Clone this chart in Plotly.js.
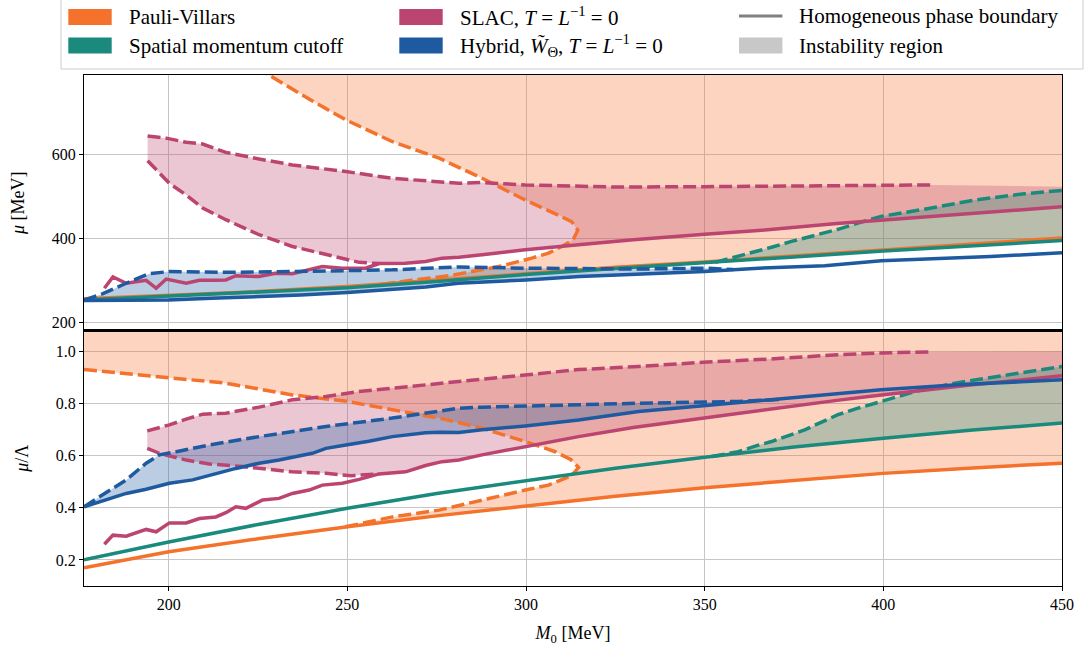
<!DOCTYPE html>
<html>
<head>
<meta charset="utf-8">
<script src="https://cdn.plot.ly/plotly-3.0.1.min.js"></script>
<style>html,body{margin:0;padding:0;background:#fff;}#chart{width:1085px;height:659px;}</style>
</head>
<body>
<div id="chart"></div>
<script>
// ---------------- DATA ----------------
// x axis ticks
const xTicks = [200, 250, 300, 350, 400, 450];
const yTopTicks = [200, 400, 600];
const yBotTicks = [0.2, 0.4, 0.6, 0.8, 1.0];

// ===== Top panel: mu [MeV] =====
// Pauli-Villars
const pvSolidTopX = [176.3, 200, 225, 250, 275, 300, 325, 350, 375, 400, 425, 450];
const pvSolidTopY = [256, 264, 273, 285, 300, 317, 331, 344, 359, 373, 387, 401];
const pvInstTopX = [220, 228, 240, 249.5, 262.5, 275.7, 287.7, 299.8, 310, 312.8, 314.5, 313.2, 310, 306.3, 301.6, 297, 292.4, 284.9, 278.4, 268, 259];
const pvInstTopY = [830, 791, 730, 684, 632, 592, 544, 492, 452, 440, 420, 397, 381, 365, 353, 343, 333, 321, 311, 300, 290];
// Spatial momentum cutoff
const smSolidTopX = [176.3, 200, 225, 250, 275, 300, 325, 350, 375, 400, 425, 450];
const smSolidTopY = [253, 262, 271, 282, 297, 314, 328, 341, 356, 370, 383, 395];
const smInstTopX = [352.9, 359.4, 365, 368.7, 374.3, 378, 383.6, 387.3, 392.9, 399.4, 411.5, 425.5, 439.5, 450];
const smInstTopY = [343, 357, 371, 379, 393, 401, 413, 422, 437, 453, 470, 492, 507, 515];
// SLAC
const slacSolidTopX = [182, 184.4, 188.1, 193.7, 196.5, 199.3, 204.9, 208.6, 213.2, 216, 218.8, 225.3, 229.9, 234.6, 243, 248.6, 255.1, 258.9, 266.3, 271.9, 276.5, 281.2, 287.7, 299.8, 314.7, 330, 350, 365, 387, 400, 425, 450];
const slacSolidTopY = [281, 308, 293, 300, 281, 303, 293, 300, 300, 301, 311, 309, 317, 316, 333, 329, 329, 340, 341, 345, 353, 355, 361, 373, 385, 397, 410, 419, 436, 444, 460, 476];
const slacUpperTopX = [194.1, 199.3, 204.9, 209.5, 213, 216, 225.3, 234.6, 249.6, 262.6, 281.2, 287.7, 299.8, 325.9, 350, 387.3, 399.4, 413.4];
const slacUpperTopY = [645, 640, 630, 626, 615, 606, 590, 576, 560, 544, 532, 534, 528, 523, 524, 526, 528, 528];
const slacLowerTopX = [194.1, 200.2, 204.9, 209.5, 216, 225.3, 234.6, 244, 253.3, 258.9];
const slacLowerTopY = [586, 532, 504, 473, 445, 409, 381, 361, 343, 340];
const slacFillEndTop = [450, 524];
// Hybrid
const hySolidTopX = [176.3, 188, 200, 212, 225, 237, 250, 262, 272, 281, 290, 300, 315, 330, 350, 365, 383.6, 399.4, 415, 430, 450];
const hySolidTopY = [252, 253, 253, 257, 261, 265, 271, 277, 284, 293, 296, 301, 309, 314, 321, 329, 335, 347, 352, 357, 366];
const hyInstTopX = [176.3, 181.6, 188.1, 194.6, 200.2, 216, 234.6, 249.6, 262.6, 281.2, 299.8, 331.5, 350, 358];
const hyInstTopY = [253, 268, 293, 316, 321, 319, 321, 323, 325, 332, 329, 327, 329, 326];

// ===== Bottom panel: mu / Lambda =====
const pvSolidBotX = [176.3, 200, 225, 250, 275, 300, 325, 350, 375, 400, 425, 450];
const pvSolidBotY = [0.170, 0.231, 0.281, 0.327, 0.369, 0.408, 0.444, 0.477, 0.506, 0.532, 0.553, 0.571];
const pvInstBotX = [176.3, 200, 216, 234.6, 250, 262.6, 275.7, 287.7, 299.8, 308.2, 312.5, 314.7, 313.5, 311.9, 306.3, 299.8, 287.7, 275.7, 262.6, 253.3, 248];
const pvInstBotY = [0.930, 0.898, 0.878, 0.833, 0.808, 0.776, 0.744, 0.705, 0.654, 0.615, 0.585, 0.555, 0.535, 0.519, 0.487, 0.468, 0.430, 0.391, 0.365, 0.340, 0.323];
const smSolidBotX = [176.3, 200, 225, 250, 275, 300, 325, 350, 375, 400, 425, 450];
const smSolidBotY = [0.201, 0.269, 0.336, 0.398, 0.455, 0.505, 0.552, 0.594, 0.633, 0.667, 0.698, 0.725];
const smInstBotX = [352, 359.4, 365, 368.7, 378, 383.6, 387.3, 392.9, 399.4, 410, 420, 430, 438, 450];
const smInstBotY = [0.597, 0.615, 0.640, 0.654, 0.699, 0.735, 0.757, 0.782, 0.808, 0.850, 0.878, 0.900, 0.917, 0.942];
const slacSolidBotX = [182, 184.4, 188.1, 191, 193.7, 196.5, 200.2, 204.9, 208.6, 213.2, 216, 218.8, 221.6, 226.3, 230.9, 234.6, 239.3, 243, 248.6, 253.3, 258.9, 266.3, 271.9, 276.5, 281.2, 287.7, 299.8, 314.7, 330, 350, 365, 387, 400, 425, 450];
const slacSolidBotY = [0.26, 0.295, 0.291, 0.305, 0.317, 0.308, 0.342, 0.342, 0.359, 0.365, 0.381, 0.404, 0.398, 0.430, 0.436, 0.455, 0.468, 0.487, 0.494, 0.509, 0.530, 0.538, 0.562, 0.577, 0.583, 0.603, 0.635, 0.673, 0.708, 0.745, 0.772, 0.812, 0.834, 0.872, 0.906];
const slacUpperBotX = [194, 200.2, 204.9, 209.5, 216, 225.3, 234.6, 244, 253.3, 262.6, 275.7, 287.7, 299.8, 314.7, 331.5, 349.6, 368.7, 387.3, 399.4, 413.4];
const slacUpperBotY = [0.695, 0.718, 0.740, 0.759, 0.763, 0.786, 0.814, 0.827, 0.846, 0.859, 0.878, 0.895, 0.910, 0.930, 0.942, 0.958, 0.971, 0.987, 0.994, 0.998];
const slacLowerBotX = [194, 197.4, 204.9, 211.4, 220.7, 234.6, 244, 251, 258.9];
const slacLowerBotY = [0.628, 0.609, 0.583, 0.568, 0.558, 0.538, 0.532, 0.523, 0.530];
const slacFillEndBot = [450, 1.0];
const hySolidBotX = [176.3, 182, 188.1, 193.7, 200.2, 206.7, 213.2, 218.8, 225.3, 230.9, 240.2, 244, 249.6, 256, 262.6, 271.9, 276, 281.2, 287.7, 299.8, 314.7, 331.5, 349.6, 368.7, 387.3, 399.4, 420.9, 435, 450];
const hySolidBotY = [0.404, 0.430, 0.455, 0.471, 0.494, 0.507, 0.532, 0.551, 0.571, 0.583, 0.609, 0.628, 0.641, 0.655, 0.673, 0.688, 0.690, 0.689, 0.699, 0.714, 0.737, 0.769, 0.791, 0.814, 0.837, 0.853, 0.872, 0.880, 0.891];
const hyInstBotX = [176.3, 181.6, 188.1, 193.7, 197.4, 202.1, 211.4, 225.3, 244, 262.6, 275.7, 281.2, 287.7, 299.8, 315, 331.5, 359.4, 372];
const hyInstBotY = [0.404, 0.449, 0.507, 0.571, 0.603, 0.615, 0.641, 0.673, 0.712, 0.744, 0.770, 0.782, 0.786, 0.791, 0.795, 0.801, 0.808, 0.816];

// ---------------- STYLE ----------------
const C = {pv: '#F4722B', sm: '#1A8A7D', slac: '#BC4470', hy: '#1E5AA0'};
const FILL_ALPHA = 0.3;
const X_RANGE = [176.3, 450];
const Y_TOP_RANGE = [180, 791];
const Y_BOT_RANGE = [0.1, 1.08];
const FONT = '"Liberation Serif", "DejaVu Serif", serif';
const LW = 3.5;
const DASH = '13px,5px';

function rgba(hex, a) {
  const n = parseInt(hex.slice(1), 16);
  return `rgba(${(n >> 16) & 255},${(n >> 8) & 255},${n & 255},${a})`;
}

// ---------------- POLYGON BUILDERS ----------------
function pvRegion(instX, instY, solX, solY, cap) {
  const xs = [...instX], ys = [...instY];
  const mergeX = instX[instX.length - 1];
  solX.forEach((x, i) => { if (x > mergeX) { xs.push(x); ys.push(solY[i]); } });
  xs.push(solX[solX.length - 1], instX[0]);
  ys.push(cap, cap);
  return {x: xs, y: ys};
}
function slacRegion(upX, upY, end, lowX, lowY, solX, solY) {
  const xs = [...upX, end[0]], ys = [...upY, end[1]];
  const mergeX = lowX[lowX.length - 1];
  for (let i = solX.length - 1; i >= 0; i--) if (solX[i] > mergeX) { xs.push(solX[i]); ys.push(solY[i]); }
  for (let i = lowX.length - 1; i >= 0; i--) { xs.push(lowX[i]); ys.push(lowY[i]); }
  return {x: xs, y: ys};
}
function bandRegion(dX, dY, solX, solY) {
  const xs = [...dX], ys = [...dY];
  const x0 = dX[0], x1 = dX[dX.length - 1];
  for (let i = solX.length - 1; i >= 0; i--) if (solX[i] >= x0 && solX[i] <= x1) { xs.push(solX[i]); ys.push(solY[i]); }
  return {x: xs, y: ys};
}

const traces = [];
function fillTrace(poly, color, xa, ya) {
  traces.push({type: 'scatter', mode: 'lines', x: poly.x, y: poly.y, fill: 'toself', fillcolor: rgba(color, FILL_ALPHA),
    line: {width: 0, color: 'rgba(0,0,0,0)'}, hoverinfo: 'skip', showlegend: false, xaxis: xa, yaxis: ya});
}
function lineTrace(x, y, color, dashed, xa, ya) {
  traces.push({type: 'scatter', mode: 'lines', x: x, y: y, line: {color: color, width: LW, dash: dashed ? DASH : 'solid'},
    hoverinfo: 'skip', showlegend: false, xaxis: xa, yaxis: ya});
}

const panels = [
  {xa: 'x2', ya: 'y2', cap: Y_TOP_RANGE[1] + 200,
   pv: [pvSolidTopX, pvSolidTopY, pvInstTopX, pvInstTopY],
   sm: [smSolidTopX, smSolidTopY, smInstTopX, smInstTopY],
   slac: [slacSolidTopX, slacSolidTopY, slacUpperTopX, slacUpperTopY, slacLowerTopX, slacLowerTopY, slacFillEndTop],
   hy: [hySolidTopX, hySolidTopY, hyInstTopX, hyInstTopY]},
  {xa: 'x', ya: 'y', cap: Y_BOT_RANGE[1] + 0.5,
   pv: [pvSolidBotX, pvSolidBotY, pvInstBotX, pvInstBotY],
   sm: [smSolidBotX, smSolidBotY, smInstBotX, smInstBotY],
   slac: [slacSolidBotX, slacSolidBotY, slacUpperBotX, slacUpperBotY, slacLowerBotX, slacLowerBotY, slacFillEndBot],
   hy: [hySolidBotX, hySolidBotY, hyInstBotX, hyInstBotY]}
];

panels.forEach(p => {
  const {xa, ya} = p;
  fillTrace(pvRegion(p.pv[2], p.pv[3], p.pv[0], p.pv[1], p.cap), C.pv, xa, ya);
  fillTrace(slacRegion(p.slac[2], p.slac[3], p.slac[6], p.slac[4], p.slac[5], p.slac[0], p.slac[1]), C.slac, xa, ya);
  fillTrace(bandRegion(p.hy[2], p.hy[3], p.hy[0], p.hy[1]), C.hy, xa, ya);
  fillTrace(bandRegion(p.sm[2], p.sm[3], p.sm[0], p.sm[1]), C.sm, xa, ya);
  lineTrace(p.pv[0], p.pv[1], C.pv, false, xa, ya);
  lineTrace(p.pv[2], p.pv[3], C.pv, true, xa, ya);
  lineTrace(p.sm[0], p.sm[1], C.sm, false, xa, ya);
  lineTrace(p.sm[2], p.sm[3], C.sm, true, xa, ya);
  lineTrace(p.slac[0], p.slac[1], C.slac, false, xa, ya);
  lineTrace(p.slac[2], p.slac[3], C.slac, true, xa, ya);
  lineTrace(p.slac[4], p.slac[5], C.slac, true, xa, ya);
  lineTrace(p.hy[0], p.hy[1], C.hy, false, xa, ya);
  lineTrace(p.hy[2], p.hy[3], C.hy, true, xa, ya);
});

// ---------------- LAYOUT ----------------
const W = 1085, H = 659, M = {l: 84, r: 23, t: 75, b: 73};
const PW = W - M.l - M.r, PH = H - M.t - M.b;
const px = v => (v - M.l) / PW;
const py = v => (H - M.b - v) / PH;

const axisCommon = {
  showline: true, linecolor: 'black', linewidth: 1, mirror: true,
  showgrid: true, gridcolor: '#c6c6c6', gridwidth: 1, zeroline: false,
  ticks: 'outside', ticklen: 4, tickwidth: 1, tickcolor: 'black',
  tickfont: {family: FONT, size: 16, color: 'black'}
};

const shapes = [];
const annotations = [];
shapes.push({type: 'rect', xref: 'paper', yref: 'paper', x0: px(61), x1: px(1083), y0: py(-3), y1: py(69),
  line: {color: '#cccccc', width: 1}, fillcolor: 'rgba(255,255,255,0.9)', layer: 'above'});
const legendEntries = [
  {kind: 'patch', color: C.pv, x: 68.3, y: 17, text: 'Pauli-Villars'},
  {kind: 'patch', color: C.sm, x: 68.3, y: 45.5, text: 'Spatial momentum cutoff'},
  {kind: 'patch', color: C.slac, x: 399.3, y: 17, text: 'SLAC, <i>T</i> = <i>L</i><sup>−1</sup> = 0'},
  {kind: 'patch', color: C.hy, x: 399.3, y: 45.5, text: 'Hybrid, <i>W\u0303</i><sub>Θ</sub>, <i>T</i> = <i>L</i><sup>−1</sup> = 0'},
  {kind: 'line', color: '#808080', x: 739, y: 16, text: 'Homogeneous phase boundary'},
  {kind: 'patch', color: '#c8c8c8', x: 739, y: 45.5, text: 'Instability region'}
];
legendEntries.forEach(e => {
  if (e.kind === 'patch') {
    shapes.push({type: 'rect', xref: 'paper', yref: 'paper', x0: px(e.x), x1: px(e.x + 43.4), y0: py(e.y + 8), y1: py(e.y - 8),
      line: {width: 0}, fillcolor: e.color, layer: 'above'});
  } else {
    shapes.push({type: 'line', xref: 'paper', yref: 'paper', x0: px(e.x), x1: px(e.x + 43.4), y0: py(e.y), y1: py(e.y),
      line: {width: 3, color: e.color}, layer: 'above'});
  }
  annotations.push({xref: 'paper', yref: 'paper', x: px(e.x + 58.4), y: py(e.y), xanchor: 'left', yanchor: 'middle',
    text: e.text, showarrow: false, font: {family: FONT, size: 21, color: 'black'}});
});
shapes.push({type: 'line', xref: 'paper', yref: 'paper', x0: 0, x1: 1, y0: 0.5, y1: 0.5, line: {color: 'black', width: 3}, layer: 'above'});

const layout = {
  width: W, height: H, margin: M, paper_bgcolor: 'white', plot_bgcolor: 'white', showlegend: false,
  font: {family: FONT, color: 'black'},
  xaxis: Object.assign({}, axisCommon, {domain: [0, 1], range: X_RANGE, anchor: 'y', tickvals: xTicks,
    title: {text: '<i>M</i><sub>0</sub> [MeV]', font: {family: FONT, size: 18}, standoff: 14}}),
  xaxis2: Object.assign({}, axisCommon, {domain: [0, 1], range: X_RANGE, anchor: 'y2', matches: 'x', tickvals: xTicks,
    showticklabels: false, ticks: ''}),
  yaxis: Object.assign({}, axisCommon, {domain: [0, 0.5], range: Y_BOT_RANGE, anchor: 'x', tickvals: yBotTicks, tickformat: '.1f',
    title: {text: '<i>μ</i>/Λ', font: {family: FONT, size: 18}, standoff: 22}}),
  yaxis2: Object.assign({}, axisCommon, {domain: [0.5, 1], range: Y_TOP_RANGE, anchor: 'x2', tickvals: yTopTicks,
    title: {text: '<i>μ</i> [MeV]', font: {family: FONT, size: 18}, standoff: 22}}),
  shapes: shapes, annotations: annotations
};

Plotly.newPlot('chart', traces, layout, {staticPlot: true, displayModeBar: false});
</script>
</body>
</html>
